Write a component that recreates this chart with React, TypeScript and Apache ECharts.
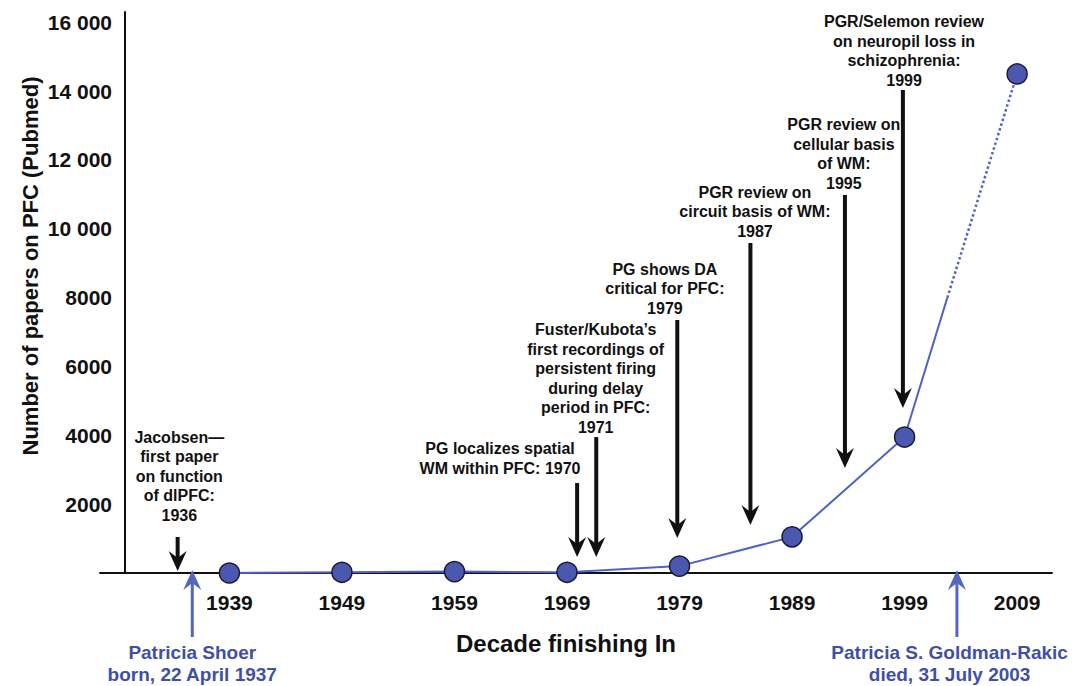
import React, { useEffect, useRef } from "react";
import * as echarts from "echarts";

const FONT = '"Liberation Sans", Arial, Helvetica, sans-serif';
const INK = "#111111";
const BLUE_LINE = "#4f62c6";
const BLUE_FILL = "#4b58b0";
const BLUE_TEXT = "#3f4fa8";

// Data
const decades = [1939, 1949, 1959, 1969, 1979, 1989, 1999, 2009];
const papers = [0, 20, 40, 20, 200, 1050, 3950, 14500];
// point where the solid line turns dotted (death in 2003)
const breakYear = 2002.8;
const breakValue = 8000;
const yTickValues = [2000, 4000, 6000, 8000, 10000, 12000, 14000, 16000];

const xMin = 1927.5;
const xMax = 2012.1;
const yMax = 16300;

// Milestone annotations (black arrows): text center x, text bottom (data units), arrow x, top, tip
const milestoneLines = [
  ["Jacobsen\u2014", "first paper", "on function", "of dlPFC:", "1936"],
  ["PG localizes spatial", "WM within PFC: 1970"],
  ["Fuster/Kubota\u2019s", "first recordings of", "persistent firing", "during delay", "period in PFC:", "1971"],
  ["PG shows DA", "critical for PFC:", "1979"],
  ["PGR review on", "circuit basis of WM:", "1987"],
  ["PGR review on", "cellular basis", "of WM:", "1995"],
  ["PGR/Selemon review", "on neuropil loss in", "schizophrenia:", "1999"],
];
const milestoneTextX = [1934.55, 1963.05, 1971.55, 1977.7, 1985.7, 1993.6, 1998.95];
const milestoneTextBottom = [1395, 2760, 3950, 7410, 9645, 11040, 14030];
const milestoneArrowX = [1934.4, 1969.9, 1971.6, 1978.8, 1985.3, 1993.7, 1998.85];
const milestoneArrowTop = [1046, 2615, 3950, 7350, 9587, 10982, 14032];
const milestoneArrowTip = [58, 465, 465, 1017, 1395, 3050, 4794];

// Life events (blue arrows from below)
const lifeLines = [
  ["Patricia Shoer", "born, 22 April 1937"],
  ["Patricia S. Goldman-Rakic", "died, 31 July 2003"],
];
const lifeTextX = [1935.7, 2003.0];
const lifeTextTop = [-1976, -1976];
const lifeArrowX = [1935.7, 2003.65];
const lifeArrowTip = [87, 87];
const lifeArrowBottom = [-1859, -1859];

function fmtY(v: number): string {
  if (v >= 10000) {
    const th = Math.floor(v / 1000);
    const rest = String(v % 1000).padStart(3, "0");
    return th + " " + rest;
  }
  return String(v);
}

function arrowDown(x: number, top: number, tip: number, color: string, w: number, hw: number, hl: number) {
  return [
    { type: "line", shape: { x1: x, y1: top, x2: x, y2: tip - hl * 0.6 }, style: { stroke: color, lineWidth: w }, z: 50 },
    {
      type: "polygon",
      shape: { points: [[x, tip], [x - hw, tip - hl], [x, tip - hl * 0.65], [x + hw, tip - hl]] },
      style: { fill: color },
      z: 51,
    },
  ];
}

function arrowUp(x: number, bottom: number, tip: number, color: string, w: number, hw: number, hl: number) {
  return [
    { type: "line", shape: { x1: x, y1: bottom, x2: x, y2: tip + hl * 0.6 }, style: { stroke: color, lineWidth: w }, z: 50 },
    {
      type: "polygon",
      shape: { points: [[x, tip], [x - hw, tip + hl], [x, tip + hl * 0.65], [x + hw, tip + hl]] },
      style: { fill: color },
      z: 51,
    },
  ];
}

export default function App() {
  const ref = useRef<HTMLDivElement>(null);

  useEffect(() => {
    if (!ref.current) return;
    const chart = echarts.init(ref.current, null, { renderer: "svg" });

    const solidData = decades.slice(0, 7).map((d, i) => [d, papers[i]]);
    solidData.push([breakYear, breakValue]);
    const dottedData = [[breakYear, breakValue], [decades[7], papers[7]]];

    chart.setOption({
      animation: false,
      backgroundColor: "#ffffff",
      grid: { left: 100, right: 23, top: 12, bottom: 113, containLabel: false },
      xAxis: {
        type: "value",
        min: xMin,
        max: xMax,
        splitLine: { show: false },
        axisTick: { show: false },
        axisLine: { show: true, lineStyle: { color: INK, width: 2 } },
        axisLabel: {
          customValues: decades,
          formatter: (v: number) => String(Math.round(v)),
          color: INK,
          fontSize: 21,
          fontWeight: "bold",
          fontFamily: FONT,
          margin: 19,
        },
      },
      yAxis: {
        type: "value",
        min: 0,
        max: yMax,
        offset: -25,
        splitLine: { show: false },
        axisTick: { show: false },
        axisLine: { show: true, onZero: false, lineStyle: { color: INK, width: 2 } },
        axisLabel: {
          customValues: yTickValues,
          formatter: (v: number) => fmtY(v),
          color: INK,
          fontSize: 21,
          fontWeight: "bold",
          fontFamily: FONT,
          margin: 13,
        },
      },
      series: [
        {
          type: "line",
          name: "solid",
          data: solidData,
          showSymbol: false,
          lineStyle: { color: BLUE_LINE, width: 2 },
          z: 2,
        },
        {
          type: "line",
          name: "dotted",
          data: dottedData,
          showSymbol: false,
          lineStyle: { color: BLUE_LINE, width: 2.5, type: "dotted" },
          z: 2,
        },
        {
          type: "scatter",
          name: "papers",
          data: decades.map((d, i) => [d, papers[i]]),
          symbolSize: 20,
          itemStyle: { color: BLUE_FILL, borderColor: "#1a1a38", borderWidth: 1.5, opacity: 1 },
          z: 5,
        },
      ],
    });

    const px = (x: number, y: number) => chart.convertToPixel({ gridIndex: 0 }, [x, y]) as number[];

    const graphics: any[] = [];
    milestoneLines.forEach((lines, i) => {
      const tp = px(milestoneTextX[i], milestoneTextBottom[i]);
      graphics.push({
        type: "text",
        x: tp[0],
        y: tp[1],
        z: 60,
        style: {
          text: lines.join("\n"),
          fontFamily: FONT,
          fontWeight: "bold",
          fontSize: 16,
          lineHeight: 19.5,
          fill: INK,
          align: "center",
          verticalAlign: "bottom",
        },
      });
      const top = px(milestoneArrowX[i], milestoneArrowTop[i]);
      const tip = px(milestoneArrowX[i], milestoneArrowTip[i]);
      graphics.push(...arrowDown(top[0], top[1], tip[1], INK, 4, 9, 20));
    });

    lifeLines.forEach((lines, i) => {
      const tp = px(lifeTextX[i], lifeTextTop[i]);
      graphics.push({
        type: "text",
        x: tp[0],
        y: tp[1],
        z: 60,
        style: {
          text: lines.join("\n"),
          fontFamily: FONT,
          fontWeight: "bold",
          fontSize: 19,
          lineHeight: 22,
          fill: BLUE_TEXT,
          align: "center",
          verticalAlign: "top",
        },
      });
      const bot = px(lifeArrowX[i], lifeArrowBottom[i]);
      const tip = px(lifeArrowX[i], lifeArrowTip[i]);
      graphics.push(...arrowUp(bot[0], bot[1], tip[1], "#5566c0", 3, 9, 20));
    });

    // axis titles
    graphics.push({
      type: "text",
      x: 566,
      y: 643,
      z: 60,
      style: {
        text: "Decade finishing In",
        fontFamily: FONT,
        fontWeight: "bold",
        fontSize: 24,
        fill: INK,
        align: "center",
        verticalAlign: "middle",
      },
    });
    graphics.push({
      type: "text",
      x: 30,
      y: 266,
      rotation: Math.PI / 2,
      z: 60,
      style: {
        text: "Number of papers on PFC (Pubmed)",
        fontFamily: FONT,
        fontWeight: "bold",
        fontSize: 22,
        fill: INK,
        align: "center",
        verticalAlign: "middle",
      },
    });

    chart.setOption({ graphic: graphics });

    return () => {
      chart.dispose();
    };
  }, []);

  return (
    <div
      ref={ref}
      style={{ position: "absolute", left: 0, top: 0, width: 1075, height: 686, background: "#fff" }}
    />
  );
}
